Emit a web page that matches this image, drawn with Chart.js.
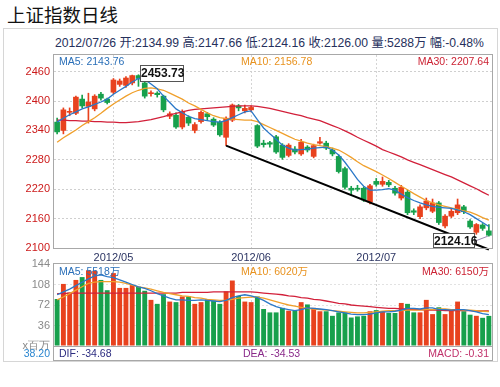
<!DOCTYPE html>
<html>
<head>
<meta charset="utf-8">
<script src="https://cdn.jsdelivr.net/npm/chart.js@4.4.0/dist/chart.umd.min.js"></script>
<style>
  body { margin: 0; width: 500px; height: 387px; background: #fff; position: relative; overflow: hidden;
         font-family: Arial, "Liberation Sans", "Noto Sans CJK SC", sans-serif; }
  .t { position: absolute; white-space: nowrap; line-height: 1; }
  .box { position: absolute; box-sizing: border-box; pointer-events: none; }
  canvas { position: absolute; left: 0; }
  .tag { position: absolute; box-sizing: border-box; background: #fff; border: 1px solid #555;
         font: bold 12px Arial, "Liberation Sans", sans-serif; color: #111; text-align: center; line-height: 14px; }
</style>
</head>
<body>
<div class="t" style="left:7px;top:5px;font-size:18.5px;font-family:'Noto Sans CJK SC';color:#111">上证指数日线</div>
<div class="box" style="left:3px;top:28px;width:495px;height:334px;border:1px solid #d6d6d6"></div>
<div class="t" style="left:55px;top:37px;font-size:12.2px;color:#26305c">2012/07/26 开:2134.99 高:2147.66 低:2124.16 收:2126.00 量:5288万 幅:-0.48%</div>

<canvas id="price" width="500" height="218" style="top:50px"></canvas>
<canvas id="volume" width="500" height="96" style="top:256px"></canvas>

<div class="box" style="left:53px;top:54px;width:440px;height:195px;border:1px solid #a8a8a8"></div>
<div class="box" style="left:53px;top:263px;width:440px;height:84px;border:1px solid #a8a8a8"></div>
<div class="box" style="left:53px;top:346px;width:440px;height:15px;border:1px solid #a8a8a8;border-top:none"></div>

<div class="t" style="left:59px;top:56px;font-size:10.5px;color:#2a6fb8">MA5: 2143.76</div>
<div class="t" style="left:241px;top:56px;font-size:10.5px;color:#e8921e">MA10: 2156.78</div>
<div class="t" style="right:11px;top:56px;font-size:10.5px;color:#cc2233">MA30: 2207.64</div>

<div class="t" style="left:59px;top:266px;font-size:10.5px;color:#2a6fb8">MA5: 5518万</div>
<div class="t" style="left:241px;top:266px;font-size:10.5px;color:#e8921e">MA10: 6020万</div>
<div class="t" style="right:11px;top:266px;font-size:10.5px;color:#cc2233">MA30: 6150万</div>

<div class="t" style="right:450px;top:348px;font-size:10.5px;color:#2a86d0">38.20</div>
<div class="t" style="left:59px;top:348px;font-size:10.5px;color:#2c2c80">DIF: -34.68</div>
<div class="t" style="left:243px;top:348px;font-size:10.5px;color:#8a2a8a">DEA: -34.53</div>
<div class="t" style="right:11px;top:348px;font-size:10.5px;color:#c0306a">MACD: -0.31</div>

<div class="tag" style="left:140px;top:65px;width:44px;height:17px">2453.73</div>
<div class="tag" style="left:433px;top:233px;width:42px;height:15px">2124.16</div>

<script>
// daily candles, 2012-04 .. 2012-07-26
const opens = [
  2357, 2340, 2377, 2375, 2404, 2389, 2384, 2414, 2404, 2418,
  2434, 2432, 2437, 2452, 2437, 2415, 2416, 2410, 2369, 2371,
  2347, 2367, 2340, 2358, 2374, 2363, 2357, 2326, 2361, 2390,
  2380, 2382, 2350, 2314, 2315, 2327, 2310, 2289, 2302, 2292,
  2306, 2287, 2314, 2314, 2300, 2287, 2262, 2222, 2222, 2222,
  2194, 2236, 2230, 2234, 2222, 2202, 2214, 2176, 2164, 2182,
  2175, 2192, 2145, 2165, 2172, 2184, 2155, 2132, 2147, 2134.99
];
const highs = [
  2365, 2386, 2386, 2410, 2412, 2416, 2413, 2418, 2406, 2446,
  2445, 2450, 2453, 2453.73, 2440, 2421, 2419, 2412, 2378, 2376,
  2382, 2370, 2356, 2380, 2377, 2366, 2360, 2368, 2394, 2393,
  2392, 2390, 2352, 2320, 2318, 2330, 2313, 2313, 2307, 2322,
  2309, 2312, 2326, 2318, 2304, 2290, 2265, 2226, 2228, 2225,
  2230, 2242, 2245, 2238, 2226, 2228, 2218, 2180, 2188, 2202,
  2200, 2195, 2168, 2180, 2200, 2187, 2158, 2150, 2150, 2147.66
];
const lows = [
  2333, 2333, 2370, 2372, 2386, 2355, 2380, 2402, 2394, 2415,
  2430, 2428, 2433, 2430, 2406, 2410, 2408, 2378, 2364, 2344,
  2343, 2350, 2335, 2355, 2362, 2348, 2328, 2309, 2358, 2380,
  2376, 2378, 2305, 2306, 2306, 2293, 2281, 2286, 2292, 2289,
  2296, 2284, 2312, 2301, 2288, 2253, 2220, 2208, 2216, 2195,
  2190, 2226, 2226, 2225, 2208, 2198, 2168, 2168, 2160, 2178,
  2172, 2148, 2141, 2162, 2168, 2170, 2140, 2128, 2136, 2124.16
];
const closes = [
  2337, 2382, 2379, 2408, 2390, 2398, 2410, 2406, 2397, 2443,
  2441, 2447, 2452, 2446, 2410, 2417, 2413, 2382, 2374, 2347,
  2378, 2355, 2352, 2377, 2368, 2351, 2331, 2365, 2392, 2386,
  2385, 2387, 2308, 2311, 2312, 2296, 2285, 2310, 2296, 2316,
  2300, 2309, 2317, 2304, 2292, 2256, 2224, 2218, 2220, 2198,
  2227, 2230, 2236, 2229, 2212, 2224, 2172, 2173, 2184, 2196,
  2192, 2152, 2165, 2175, 2188, 2174, 2143, 2148, 2140, 2126.00
];
const ma5 = [
  2357, 2365, 2372, 2378, 2384, 2388, 2393, 2398, 2404, 2414,
  2422, 2430, 2439, 2446, 2444, 2435, 2425, 2410, 2397, 2384,
  2376, 2369, 2364, 2362, 2360, 2358, 2357, 2360, 2366, 2372,
  2378, 2380, 2362, 2345, 2333, 2322, 2310, 2304, 2300, 2301,
  2302, 2304, 2305, 2306, 2300, 2290, 2275, 2258, 2240, 2226,
  2218, 2218, 2219, 2221, 2218, 2210, 2203, 2197, 2192, 2188,
  2185, 2183, 2182, 2181, 2178, 2174, 2168, 2160, 2152, 2143.76
];
const ma10 = [
  2316, 2325, 2333, 2341, 2350, 2358, 2366, 2375, 2385, 2394,
  2402, 2410, 2417, 2422, 2426, 2427, 2425, 2422, 2416, 2410,
  2404, 2396, 2390, 2383, 2376, 2370, 2366, 2364, 2363, 2362,
  2361, 2361, 2358, 2352, 2346, 2340, 2334, 2328, 2322, 2318,
  2314, 2311, 2309, 2307, 2304, 2300, 2293, 2285, 2276, 2268,
  2262, 2256, 2249, 2242, 2234, 2226, 2219, 2211, 2204, 2197,
  2192, 2188, 2185, 2182, 2179, 2176, 2173, 2168, 2162, 2156.78
];
const ma30 = [
  2361, 2361, 2360, 2360, 2359, 2359, 2358, 2358, 2357, 2357,
  2356, 2356, 2357, 2358, 2360, 2362, 2365, 2368, 2372, 2375,
  2378, 2381, 2383, 2384, 2385, 2386, 2387, 2388, 2389, 2390,
  2390, 2390, 2389, 2387, 2385, 2382, 2379, 2376, 2373, 2370,
  2366, 2363, 2360, 2355, 2350, 2345, 2339, 2333, 2326, 2320,
  2314, 2308, 2301, 2296, 2291, 2286, 2280, 2275, 2270, 2265,
  2260, 2255, 2250, 2245, 2239, 2233, 2227, 2221, 2214, 2207.64
];
// volume, millions
const volumes = [
  82.5, 109, 94, 116, 121, 133, 132, 116, 98, 128,
  102, 102, 107, 104, 97, 81, 74, 91, 78, 77,
  87, 87, 74, 77, 82, 80, 74, 96, 115, 88,
  78, 77, 87, 65, 59, 59, 67, 62, 62, 77,
  73, 67, 61, 61, 53, 59, 59, 50, 52, 53,
  61, 63, 61, 58, 58, 75.6, 74, 59, 59, 81,
  56, 68, 56, 62, 78, 61, 55, 53, 49.5, 52.88
];
const volMa5 = [
  90, 95, 100, 106, 112, 118, 123, 125, 122, 120,
  116, 112, 108, 104, 101, 97, 92, 88, 84, 81,
  81, 80, 80, 81, 80, 79, 78, 80, 85, 88,
  90, 88, 85, 80, 74, 69, 66, 64, 62, 64,
  67, 66, 65, 64, 62, 60, 58, 56, 55, 55,
  56, 58, 60, 60, 61, 63, 66, 66, 65, 67,
  67, 64, 64, 63, 64, 64, 62, 60, 57, 55.18
];
const volMa10 = [
  81, 86, 92, 98, 104, 110, 112, 113, 113, 113,
  112, 110, 107, 104, 102, 100, 97, 94, 92, 90,
  88, 87, 85, 84, 82, 81, 80, 80, 82, 84,
  85, 86, 86, 84, 81, 78, 75, 72, 70, 68,
  66, 65, 64, 63, 62, 61, 60, 59, 58, 58,
  59, 60, 61, 62, 62, 62, 63, 63, 63, 64,
  64, 65, 65, 64, 64, 63, 63, 62, 61, 60.2
];
const volMa30 = [
  92, 92, 93, 93, 93, 93, 93, 93, 93, 93,
  93, 93, 93, 93, 93, 93, 93, 93, 93, 93,
  94, 94, 94, 94, 94, 95, 95, 95, 95, 95,
  95, 95, 94, 93, 92, 91, 90, 88, 87, 85,
  84, 82, 81, 79, 77, 75, 74, 72, 71, 70,
  69, 68, 67, 66, 66, 65, 65, 64, 64, 63,
  63, 63, 62, 62, 62, 62, 62, 61.5, 61.5, 61.5
];
const monthTicks = { 9: "2012/05", 31: "2012/06", 51: "2012/07" };
const priceTicks = [2100, 2160, 2220, 2280, 2340, 2400, 2460];
const volTicks = [0, 36, 72, 108, 144];
// support line: [index, value] at both ends
const trendFrom = [27, 2309];
const trendTo = [69, 2097];
const lowMark = [69, 2124.16];

const RED = "#e8421e";
const GREEN = "#17a04c";
const BLUE = "#2a78c8";
const ORANGE = "#f0a02c";
const CRIMSON = "#d2203a";

Chart.defaults.font.family = 'Arial, "Liberation Sans", sans-serif';
Chart.defaults.animation = false;

const labels = opens.map((_, i) => i);
const candleColors = opens.map((o, i) => (closes[i] >= o ? RED : GREEN));
const monthIdx = Object.keys(monthTicks).map(Number);
const trend = labels.map((i) => (i === trendFrom[0] ? trendFrom[1] : i === trendTo[0] ? trendTo[1] : null));

const fixAxis = (w, h) => (s) => {
  if (w !== null) s.width = w;
  if (h !== null) s.height = h;
  s.paddingTop = s.paddingBottom = s.paddingLeft = s.paddingRight = 0;
};

function lineSet(data, color, width = 1.3) {
  return { type: "line", data, borderColor: color, borderWidth: width, pointRadius: 0, tension: 0, order: 0 };
}

const xScale = (showTicks) => ({
  type: "category",
  offset: true,
  afterFit: fixAxis(null, showTicks ? 20 : 0),
  grid: {
    offset: false,
    drawTicks: false,
    color: (c) => (monthIdx.includes(c.index) ? "#d4d4d4" : "rgba(0,0,0,0)"),
  },
  border: { display: false, dash: [2, 2] },
  ticks: {
    display: showTicks,
    autoSkip: false,
    maxRotation: 0,
    padding: 3,
    color: "#2c3563",
    font: { size: 11 },
    callback: (v, i) => monthTicks[i] || "",
  },
});

// thin connector from the low-price tag to the last candle's low
const tagLine = {
  id: "tagLine",
  afterDatasetsDraw(chart) {
    const { ctx, scales } = chart;
    const x = scales.x.getPixelForValue(lowMark[0]);
    const y = scales.y.getPixelForValue(lowMark[1]);
    ctx.save();
    ctx.strokeStyle = "#9a8ab0";
    ctx.lineWidth = 1;
    ctx.beginPath();
    ctx.moveTo(x - 14, y + 5);
    ctx.lineTo(x - 1, y);
    ctx.stroke();
    ctx.restore();
  },
};

new Chart(document.getElementById("price"), {
  type: "bar",
  data: {
    labels,
    datasets: [
      lineSet(ma5, BLUE),
      lineSet(ma10, ORANGE),
      lineSet(ma30, CRIMSON),
      { ...lineSet(trend, "#000", 2), spanGaps: true, clip: false },
      {
        data: opens.map((o, i) => [o, closes[i]]),
        backgroundColor: candleColors,
        barThickness: 5,
        minBarLength: 1,
        grouped: false,
        order: 5,
      },
      {
        data: lows.map((l, i) => [l, highs[i]]),
        backgroundColor: candleColors,
        barThickness: 1,
        grouped: false,
        order: 6,
      },
    ],
  },
  options: {
    responsive: false,
    layout: { padding: { top: 5, right: 8, left: 0, bottom: 0 } },
    plugins: { legend: { display: false }, tooltip: { enabled: false } },
    scales: {
      x: xScale(true),
      y: {
        min: 2100,
        max: 2494,
        afterBuildTicks: (s) => { s.ticks = priceTicks.map((v) => ({ value: v })); },
        afterFit: fixAxis(54, null),
        grid: { color: "#cfcfcf", drawTicks: false },
        border: { display: false, dash: [2, 2] },
        ticks: { padding: 4, color: "#cc1a1a", font: { size: 11 }, callback: (v) => String(v) },
      },
    },
  },
  plugins: [tagLine],
});

new Chart(document.getElementById("volume"), {
  type: "bar",
  data: {
    labels,
    datasets: [
      lineSet(volMa5, BLUE),
      lineSet(volMa10, ORANGE),
      lineSet(volMa30, CRIMSON),
      {
        data: volumes,
        backgroundColor: candleColors,
        barPercentage: 0.78,
        categoryPercentage: 1,
        order: 5,
      },
    ],
  },
  options: {
    responsive: false,
    layout: { padding: { top: 8, right: 8, left: 0, bottom: 6 } },
    plugins: { legend: { display: false }, tooltip: { enabled: false } },
    scales: {
      x: xScale(false),
      y: {
        min: 0,
        max: 144,
        afterBuildTicks: (s) => { s.ticks = volTicks.map((v) => ({ value: v })); },
        afterFit: fixAxis(54, null),
        grid: { color: (c) => (c.tick && c.tick.value > 0 && c.tick.value < 144 ? "#e2e2e2" : "rgba(0,0,0,0)"), drawTicks: false },
        border: { display: false, dash: [2, 2] },
        ticks: { padding: 4, color: "#8a8a8a", font: { size: 11 }, callback: (v) => (v === 0 ? "x百万" : String(v)) },
      },
    },
  },
});
</script>
</body>
</html>
